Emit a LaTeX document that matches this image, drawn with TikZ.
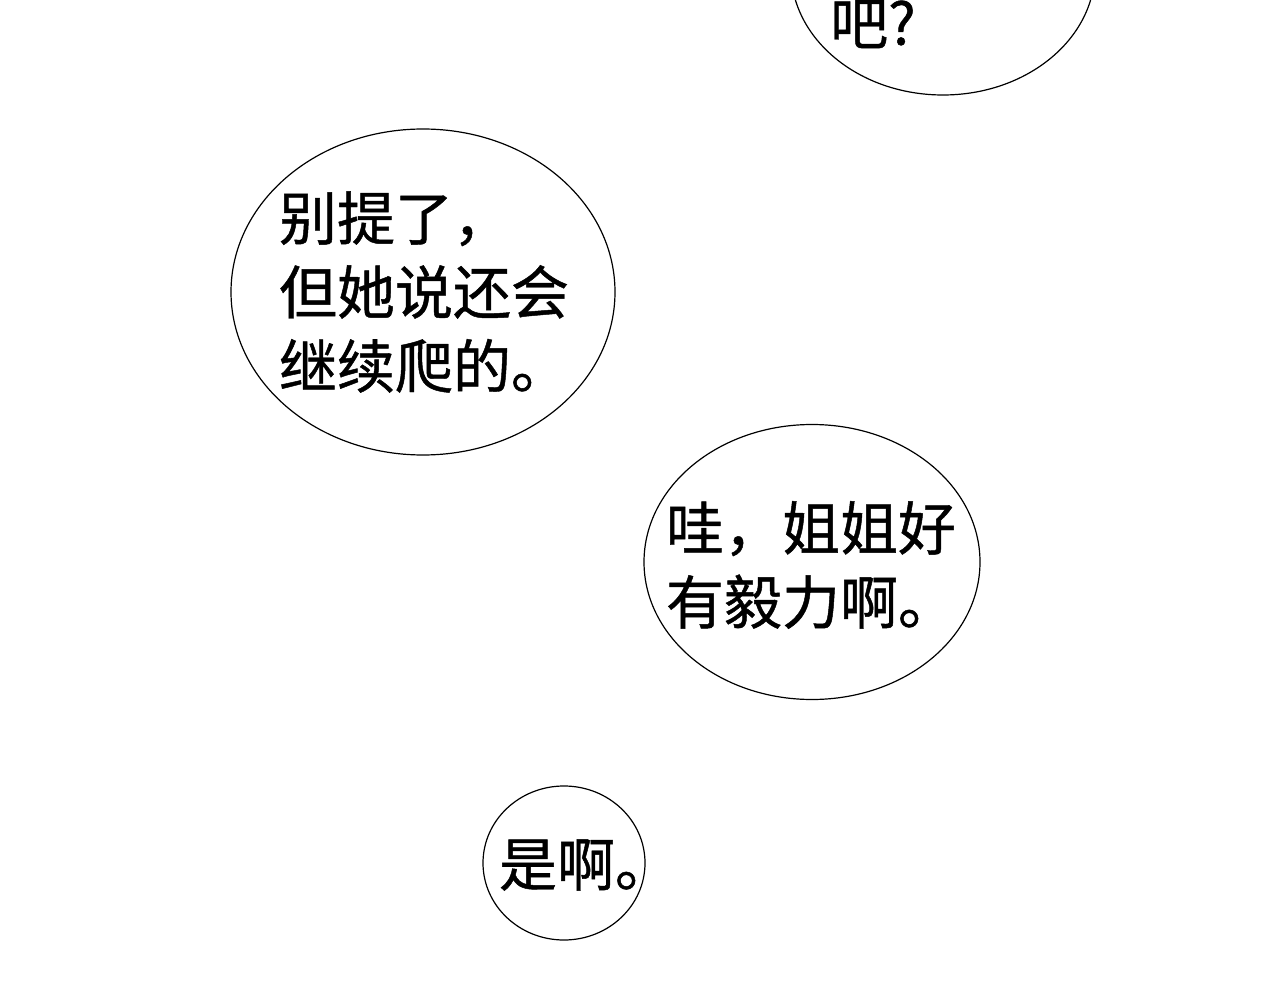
\documentclass[tikz,border=0pt]{standalone}
\usepackage{fontspec}
\newfontfamily\cjk[FakeBold=0.8]{Noto Sans CJK SC}
\usetikzlibrary{shapes.geometric}

\begin{document}
\begin{tikzpicture}[x=1pt,y=-1pt,
  bubble/.style={draw,ellipse,line width=1.2pt,inner sep=0pt},
  says/.style={font=\cjk\fontsize{58}{74}\selectfont,align=left,inner sep=0pt}]
\useasboundingbox[fill=white] (0,0) rectangle (1280,1000);
% top bubble, cut by the page edge
\node[bubble,minimum width=304,minimum height=250] (b1) at (943,-30) {};
\node[says,anchor=west] (t1) at (830,24) {吧?};
\node[bubble,minimum width=384,minimum height=326] (b2) at (423,292) {};
\node[says] (t2) at (424,292) {别提了，\\但她说还会\\继续爬的。};
\node[bubble,minimum width=336,minimum height=275] (b3) at (812,562) {};
\node[says] (t3) at (811,565) {哇，姐姐好\\有毅力啊。};
\node[bubble,minimum width=162,minimum height=154] (b4) at (564,863) {};
\node[says] (t4) at (586,865) {是啊。};
\end{tikzpicture}
\end{document}
